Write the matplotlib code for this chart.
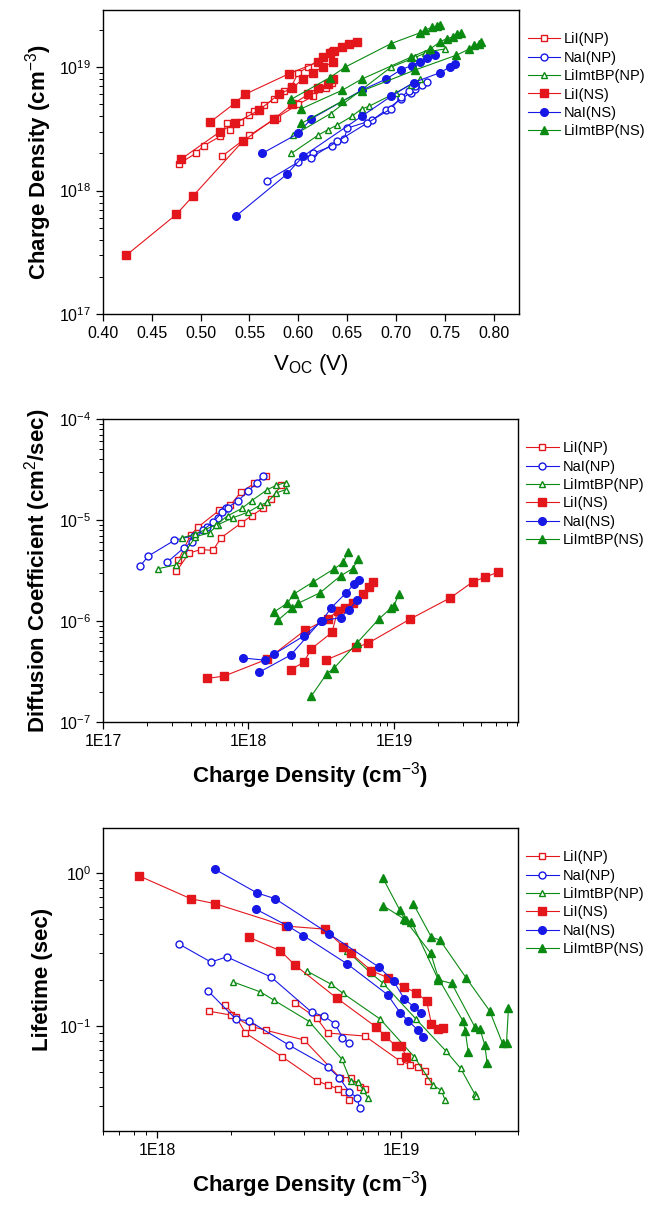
import matplotlib.pyplot as plt
from matplotlib.ticker import LogLocator, FixedLocator, FixedFormatter, NullFormatter

plt.rcParams["font.family"] = ["Liberation Sans", "DejaVu Sans"]
plt.rcParams["mathtext.fontset"] = "custom"
plt.rcParams["mathtext.rm"] = "Liberation Sans"

SERIES = ["LiI(NP)", "NaI(NP)", "LiImtBP(NP)", "LiI(NS)", "NaI(NS)", "LiImtBP(NS)"]

# --- panel (a): charge density vs Voc, several runs per electrolyte ---
voc_lii_np = [[0.478, 0.495, 0.503, 0.52, 0.527, 0.53, 0.54, 0.55, 0.555, 0.565, 0.575,
               0.585, 0.593, 0.60, 0.61, 0.625, 0.635],
              [0.522, 0.55, 0.578, 0.60, 0.615, 0.628, 0.635]]
n_lii_np = [[1.65e18, 2.0e18, 2.3e18, 2.75e18, 3.5e18, 3.1e18, 3.6e18, 4.1e18, 4.4e18, 4.9e18,
             5.5e18, 6.4e18, 7.0e18, 9.0e18, 1.0e19, 1.2e19, 1.35e19],
            [1.9e18, 2.8e18, 3.9e18, 5.0e18, 5.8e18, 6.8e18, 7.5e18]]
voc_nai_np = [[0.568, 0.60, 0.615, 0.635, 0.647, 0.65, 0.675, 0.69, 0.705, 0.715, 0.72, 0.727, 0.732],
              [0.613, 0.64, 0.67, 0.695, 0.705, 0.713, 0.72]]
n_nai_np = [[1.2e18, 1.7e18, 2.0e18, 2.3e18, 2.6e18, 3.2e18, 3.7e18, 4.5e18, 5.5e18, 6.2e18,
             6.7e18, 7.1e18, 7.6e18],
            [1.85e18, 2.5e18, 3.5e18, 4.6e18, 5.7e18, 6.4e18, 7.0e18]]
voc_mtbp_np = [[0.593, 0.62, 0.63, 0.64, 0.655, 0.665, 0.672, 0.70, 0.715, 0.725],
               [0.595, 0.633, 0.695, 0.72, 0.73, 0.737, 0.75]]
n_mtbp_np = [[2.0e18, 2.8e18, 3.1e18, 3.4e18, 4.0e18, 4.6e18, 4.8e18, 6.2e18, 7.2e18, 8.0e18],
             [2.8e18, 4.2e18, 1.0e19, 1.2e19, 1.3e19, 1.35e19, 1.4e19]]
voc_lii_ns = [[0.424, 0.475, 0.492, 0.543, 0.575, 0.594, 0.61, 0.62, 0.63, 0.636],
              [0.48, 0.52, 0.535, 0.56, 0.58, 0.594, 0.605, 0.615, 0.625, 0.636],
              [0.51, 0.535, 0.545, 0.59, 0.62, 0.625, 0.632, 0.637, 0.645, 0.652, 0.66]]
n_lii_ns = [[3.0e17, 6.4e17, 9.0e17, 2.5e18, 3.8e18, 5.0e18, 6.0e18, 6.8e18, 7.3e18, 8.0e18],
            [1.8e18, 3.0e18, 3.5e18, 4.5e18, 6.0e18, 6.8e18, 8.0e18, 9.0e18, 1.0e19, 1.1e19],
            [3.6e18, 5.1e18, 6.0e18, 8.8e18, 1.1e19, 1.2e19, 1.3e19, 1.35e19, 1.45e19, 1.55e19, 1.6e19]]
voc_nai_ns = [[0.536, 0.588, 0.605, 0.665, 0.695, 0.718, 0.745, 0.755, 0.76],
              [0.563, 0.60, 0.613, 0.665, 0.69, 0.705, 0.716, 0.725, 0.732, 0.74]]
n_nai_ns = [[6.2e17, 1.35e18, 1.9e18, 4.0e18, 5.8e18, 7.5e18, 9.0e18, 1.0e19, 1.05e19],
            [2.0e18, 2.9e18, 3.8e18, 6.5e18, 8.0e18, 9.5e18, 1.03e19, 1.1e19, 1.18e19, 1.25e19]]
voc_mtbp_ns = [[0.593, 0.632, 0.648, 0.695, 0.725, 0.73, 0.737, 0.742, 0.745],
               [0.603, 0.645, 0.665, 0.715, 0.735, 0.745, 0.752, 0.758, 0.763, 0.767],
               [0.603, 0.645, 0.665, 0.72, 0.762, 0.775, 0.78, 0.785, 0.787]]
n_mtbp_ns = [[5.5e18, 8.2e18, 1.0e19, 1.55e19, 1.9e19, 2.0e19, 2.1e19, 2.15e19, 2.2e19],
             [4.6e18, 6.5e18, 8.0e18, 1.2e19, 1.4e19, 1.6e19, 1.7e19, 1.75e19, 1.85e19, 1.9e19],
             [3.5e18, 5.3e18, 6.4e18, 9.5e18, 1.25e19, 1.4e19, 1.5e19, 1.55e19, 1.6e19]]

# --- panel (b): diffusion coefficient vs charge density ---
nd_lii_np = [[3.2e17, 3.9e17, 4.7e17, 5.7e17, 6.5e17, 8.9e17, 1.05e18, 1.25e18, 1.42e18, 1.68e18],
             [3.3e17, 4.0e17, 4.5e17, 6.3e17, 7.5e17, 8.9e17, 1.1e18, 1.33e18]]
d_lii_np = [[3.1e-6, 4.7e-6, 5.1e-6, 5.0e-6, 6.7e-6, 9.3e-6, 1.1e-5, 1.3e-5, 1.6e-5, 2.2e-5],
            [4.0e-6, 7.1e-6, 8.5e-6, 1.25e-5, 1.4e-5, 1.9e-5, 2.3e-5, 2.75e-5]]
nd_nai_np = [[1.8e17, 2.05e17, 3.1e17, 4.2e17, 5.2e17, 6.2e17, 7.0e17, 8.5e17, 1.0e18, 1.15e18, 1.25e18],
             [2.75e17, 3.6e17, 4.1e17, 4.9e17, 5.7e17, 6.6e17, 7.2e17]]
d_nai_np = [[3.5e-6, 4.4e-6, 6.3e-6, 7.0e-6, 8.5e-6, 1.05e-5, 1.3e-5, 1.55e-5, 1.95e-5, 2.35e-5, 2.75e-5],
            [3.8e-6, 5.3e-6, 6.1e-6, 8.0e-6, 9.5e-6, 1.2e-5, 1.3e-5]]
nd_mtbp_np = [[2.4e17, 3.2e17, 3.6e17, 4.3e17, 5.4e17, 6.2e17, 7.8e17, 1.0e18, 1.2e18, 1.35e18, 1.55e18, 1.8e18],
              [3.5e17, 4.3e17, 5.0e17, 6.0e17, 7.2e17, 9.0e17, 1.05e18, 1.35e18, 1.55e18, 1.8e18]]
d_mtbp_np = [[3.3e-6, 3.6e-6, 4.6e-6, 6.8e-6, 7.5e-6, 9.0e-6, 1.05e-5, 1.2e-5, 1.4e-5, 1.5e-5, 1.85e-5, 2.0e-5],
             [6.7e-6, 7.2e-6, 8.0e-6, 9.0e-6, 1.1e-5, 1.3e-5, 1.55e-5, 2.0e-5, 2.2e-5, 2.35e-5]]
nd_lii_ns = [[5.2e17, 6.8e17, 1.35e18, 2.45e18, 3.5e18, 4.1e18, 4.6e18, 5.2e18, 6.1e18, 6.7e18, 7.2e18],
             [1.95e18, 2.4e18, 2.7e18, 3.75e18, 4.1e18],
             [3.4e18, 5.5e18, 6.6e18, 1.3e19, 2.45e19, 3.5e19, 4.2e19, 5.2e19]]
d_lii_ns = [[2.7e-7, 2.85e-7, 4.2e-7, 8.1e-7, 1.05e-6, 1.25e-6, 1.35e-6, 1.5e-6, 1.85e-6, 2.15e-6, 2.45e-6],
            [3.3e-7, 3.9e-7, 5.3e-7, 7.7e-7, 1.25e-6],
            [4.1e-7, 5.5e-7, 6.0e-7, 1.05e-6, 1.7e-6, 2.45e-6, 2.7e-6, 3.05e-6]]
nd_nai_ns = [[9.2e17, 1.3e18, 1.5e18, 2.4e18, 3.2e18, 3.7e18, 4.7e18, 5.3e18, 5.8e18],
             [1.18e18, 1.95e18, 3.15e18, 4.3e18, 4.9e18, 5.6e18]]
d_nai_ns = [[4.3e-7, 4.1e-7, 4.7e-7, 7.1e-7, 1.0e-6, 1.35e-6, 1.9e-6, 2.3e-6, 2.55e-6],
            [3.1e-7, 4.6e-7, 1.0e-6, 1.08e-6, 1.3e-6, 1.6e-6]]
nd_mtbp_ns = [[1.5e18, 1.85e18, 2.05e18, 2.8e18, 3.9e18, 4.5e18, 4.8e18],
              [1.6e18, 2.0e18, 2.2e18, 3.1e18, 4.3e18, 5.2e18, 5.7e18],
              [2.7e18, 3.45e18, 3.9e18, 5.6e18, 7.9e18, 9.6e18, 1.0e19, 1.08e19]]
d_mtbp_ns = [[1.23e-6, 1.5e-6, 1.85e-6, 2.45e-6, 3.3e-6, 3.8e-6, 4.8e-6],
             [1.02e-6, 1.35e-6, 1.5e-6, 1.9e-6, 2.8e-6, 3.3e-6, 4.1e-6],
             [1.8e-7, 3.0e-7, 3.45e-7, 6.1e-7, 1.05e-6, 1.35e-6, 1.4e-6, 1.85e-6]]

# --- panel (c): electron lifetime vs charge density ---
nt_lii_np = [[1.63e18, 2.0e18, 2.45e18, 2.78e18, 4.0e18, 5.6e18, 6.2e18, 6.75e18, 7.1e18],
             [3.67e18, 4.5e18, 5.0e18, 7.1e18, 9.9e18, 1.09e19, 1.17e19, 1.25e19, 1.29e19],
             [1.9e18, 2.1e18, 2.3e18, 3.25e18, 4.5e18, 5.0e18, 5.5e18, 5.85e18, 6.1e18]]
t_lii_np = [[0.125, 0.118, 0.099, 0.094, 0.081, 0.046, 0.046, 0.040, 0.039],
            [0.141, 0.113, 0.090, 0.086, 0.059, 0.056, 0.054, 0.051, 0.044],
            [0.137, 0.115, 0.090, 0.063, 0.044, 0.041, 0.039, 0.037, 0.033]]
nt_nai_np = [[1.23e18, 1.66e18, 1.93e18, 2.93e18, 4.3e18, 4.83e18, 5.37e18, 5.74e18, 6.1e18],
             [1.62e18, 2.1e18, 2.38e18, 3.47e18, 5.0e18, 5.57e18, 6.13e18, 6.6e18, 6.75e18]]
t_nai_np = [[0.343, 0.262, 0.283, 0.209, 0.123, 0.116, 0.103, 0.084, 0.077],
            [0.169, 0.111, 0.108, 0.075, 0.054, 0.046, 0.037, 0.034, 0.029]]
nt_mtbp_np = [[2.05e18, 2.65e18, 3.0e18, 4.2e18, 5.7e18, 6.2e18, 6.65e18, 7.0e18, 7.3e18],
              [4.1e18, 5.15e18, 5.76e18, 8.2e18, 1.13e19, 1.35e19, 1.46e19, 1.51e19],
              [6.0e18, 7.5e18, 8.4e18, 1.15e19, 1.52e19, 1.75e19, 2.0e19, 2.03e19]]
t_mtbp_np = [[0.194, 0.167, 0.148, 0.107, 0.061, 0.044, 0.043, 0.038, 0.034],
             [0.229, 0.188, 0.164, 0.111, 0.063, 0.041, 0.038, 0.033],
             [0.31, 0.222, 0.191, 0.111, 0.069, 0.053, 0.036, 0.035]]
nt_lii_ns = [[8.4e17, 1.37e18, 1.73e18, 3.36e18, 4.85e18, 5.8e18, 6.2e18, 7.55e18, 8.8e18,
              1.03e19, 1.15e19, 1.27e19, 1.33e19, 1.42e19, 1.48e19],
             [2.38e18, 3.2e18, 3.67e18, 5.45e18, 7.86e18, 8.6e18, 9.5e18, 1.0e19, 1.05e19]]
t_lii_ns = [[0.96, 0.68, 0.63, 0.45, 0.43, 0.33, 0.30, 0.23, 0.207, 0.18, 0.165, 0.146, 0.103, 0.096, 0.097],
            [0.38, 0.31, 0.25, 0.152, 0.099, 0.086, 0.074, 0.074, 0.063]]
nt_nai_ns = [[1.72e18, 2.57e18, 3.04e18, 5.07e18, 8.09e18, 9.3e18, 1.03e19, 1.13e19, 1.21e19],
             [2.54e18, 3.44e18, 3.97e18, 6.02e18, 8.8e18, 9.9e18, 1.07e19, 1.17e19, 1.23e19]]
t_nai_ns = [[1.06, 0.74, 0.68, 0.40, 0.243, 0.197, 0.15, 0.133, 0.121],
            [0.58, 0.45, 0.39, 0.254, 0.16, 0.122, 0.108, 0.094, 0.085]]
nt_mtbp_ns = [[8.4e18, 9.85e18, 1.03e19, 1.32e19, 1.42e19, 1.79e19, 1.83e19, 1.88e19],
              [8.45e18, 1.05e19, 1.10e19, 1.42e19, 1.61e19, 2.0e19, 2.1e19, 2.2e19, 2.25e19],
              [1.12e19, 1.33e19, 1.44e19, 1.85e19, 2.3e19, 2.6e19, 2.7e19, 2.75e19]]
t_mtbp_ns = [[0.93, 0.575, 0.50, 0.30, 0.205, 0.108, 0.093, 0.068],
             [0.61, 0.49, 0.48, 0.20, 0.19, 0.099, 0.096, 0.075, 0.057],
             [0.63, 0.38, 0.365, 0.205, 0.126, 0.077, 0.078, 0.131]]

RED, BLUE, GREEN = "#e3161c", "#1717e6", "#0b8a12"
STYLE = {
    "LiI(NP)": (RED, "s", False),
    "NaI(NP)": (BLUE, "o", False),
    "LiImtBP(NP)": (GREEN, "^", False),
    "LiI(NS)": (RED, "s", True),
    "NaI(NS)": (BLUE, "o", True),
    "LiImtBP(NS)": (GREEN, "^", True),
}


def draw(ax, xs_list, ys_list):
    for name, xs, ys in zip(SERIES, xs_list, ys_list):
        color, marker, filled = STYLE[name]
        for i, (x, y) in enumerate(zip(xs, ys)):
            ax.plot(x, y, "-", color=color, lw=0.8, marker=marker, ms=5.5 if filled else 5,
                    mfc=color if filled else "white", mec=color, mew=1.0,
                    label=name if i == 0 else None)
    ax.legend(loc="upper left", bbox_to_anchor=(1.0, 0.955), frameon=False, fontsize=10.5,
              handlelength=2.2, handletextpad=0.3, labelspacing=0.3, borderaxespad=0.2)
    ax.tick_params(which="both", direction="out", labelsize=11.5)
    ax.tick_params(which="major", length=5, width=0.9)
    ax.tick_params(which="minor", length=2.8, width=0.7)
    for s in ax.spines.values():
        s.set_linewidth(1.0)


def pow_labels(exps):
    return [r"$10^{%d}$" % e for e in exps]


fig = plt.figure(figsize=(6.52, 12.05), dpi=100)

ax1 = fig.add_axes([0.158, 0.7394, 0.638, 0.2523])
draw(ax1, [voc_lii_np, voc_nai_np, voc_mtbp_np, voc_lii_ns, voc_nai_ns, voc_mtbp_ns],
     [n_lii_np, n_nai_np, n_mtbp_np, n_lii_ns, n_nai_ns, n_mtbp_ns])
ax1.set_yscale("log")
ax1.set_xlim(0.40, 0.826)
ax1.set_ylim(1e17, 2.9e19)
ax1.set_xticks([0.40, 0.45, 0.50, 0.55, 0.60, 0.65, 0.70, 0.75, 0.80])
ax1.set_xticklabels(["0.40", "0.45", "0.50", "0.55", "0.60", "0.65", "0.70", "0.75", "0.80"])
ax1.yaxis.set_major_locator(FixedLocator([1e17, 1e18, 1e19]))
ax1.yaxis.set_major_formatter(FixedFormatter(pow_labels([17, 18, 19])))
ax1.yaxis.set_minor_locator(LogLocator(base=10, subs=range(2, 10)))
ax1.yaxis.set_minor_formatter(NullFormatter())
ax1.set_xlabel(r"V$_{\rm OC}$ (V)", fontsize=16, labelpad=8)
ax1.set_ylabel(r"Charge Density (cm$^{-3}$)", fontsize=16, fontweight="bold", labelpad=4)

ax2 = fig.add_axes([0.158, 0.4008, 0.636, 0.2515])
draw(ax2, [nd_lii_np, nd_nai_np, nd_mtbp_np, nd_lii_ns, nd_nai_ns, nd_mtbp_ns],
     [d_lii_np, d_nai_np, d_mtbp_np, d_lii_ns, d_nai_ns, d_mtbp_ns])
ax2.set_xscale("log")
ax2.set_yscale("log")
ax2.set_xlim(1e17, 7.1e19)
ax2.set_ylim(1e-7, 1e-4)
ax2.xaxis.set_major_locator(FixedLocator([1e17, 1e18, 1e19]))
ax2.xaxis.set_major_formatter(FixedFormatter(["1E17", "1E18", "1E19"]))
ax2.xaxis.set_minor_locator(LogLocator(base=10, subs=range(2, 10)))
ax2.xaxis.set_minor_formatter(NullFormatter())
ax2.yaxis.set_major_locator(FixedLocator([1e-7, 1e-6, 1e-5, 1e-4]))
ax2.yaxis.set_major_formatter(FixedFormatter(pow_labels([-7, -6, -5, -4])))
ax2.yaxis.set_minor_locator(LogLocator(base=10, subs=range(2, 10)))
ax2.yaxis.set_minor_formatter(NullFormatter())
ax2.set_xlabel(r"Charge Density (cm$^{-3}$)", fontsize=16, fontweight="bold", labelpad=8)
ax2.set_ylabel(r"Diffusion Coefficient (cm$^{2}$/sec)", fontsize=16, fontweight="bold", labelpad=4)

ax3 = fig.add_axes([0.158, 0.0614, 0.636, 0.2515])
draw(ax3, [nt_lii_np, nt_nai_np, nt_mtbp_np, nt_lii_ns, nt_nai_ns, nt_mtbp_ns],
     [t_lii_np, t_nai_np, t_mtbp_np, t_lii_ns, t_nai_ns, t_mtbp_ns])
ax3.set_xscale("log")
ax3.set_yscale("log")
ax3.set_xlim(6e17, 3e19)
ax3.set_ylim(0.0206, 1.97)
ax3.xaxis.set_major_locator(FixedLocator([1e18, 1e19]))
ax3.xaxis.set_major_formatter(FixedFormatter(["1E18", "1E19"]))
ax3.xaxis.set_minor_locator(LogLocator(base=10, subs=range(2, 10)))
ax3.xaxis.set_minor_formatter(NullFormatter())
ax3.yaxis.set_major_locator(FixedLocator([0.1, 1.0]))
ax3.yaxis.set_major_formatter(FixedFormatter(pow_labels([-1, 0])))
ax3.yaxis.set_minor_locator(LogLocator(base=10, subs=range(2, 10)))
ax3.yaxis.set_minor_formatter(NullFormatter())
ax3.set_xlabel(r"Charge Density (cm$^{-3}$)", fontsize=16, fontweight="bold", labelpad=8)
ax3.set_ylabel("Lifetime (sec)", fontsize=16, fontweight="bold", labelpad=4)

fig.savefig("out.png", dpi=100)
